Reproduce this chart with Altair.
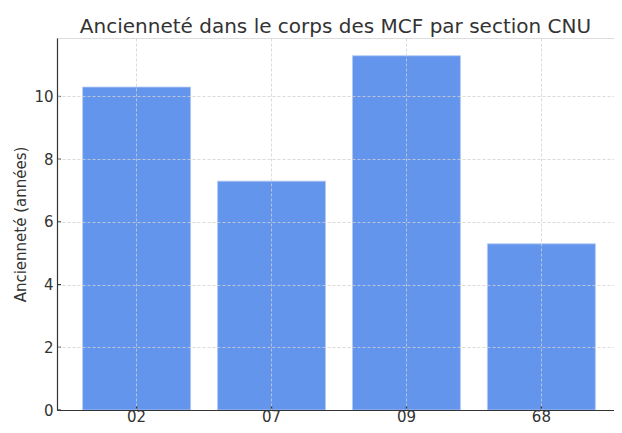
import altair as alt
import pandas as pd

sections = ["02", "07", "09", "68"]
anciennete = [10.3, 7.3, 11.3, 5.3]
y_ticks = [0, 2, 4, 6, 8, 10]

df = pd.DataFrame({"section": sections, "anciennete": anciennete})
df_ticks = pd.DataFrame({"t": y_ticks})

W, H = 557, 372
y_scale = alt.Scale(domain=[0, 11.865], nice=False, zero=True)
x_scale = alt.Scale(domain=sections, paddingInner=0.2, paddingOuter=0.19, range=[0, 564])

x_axis = alt.Axis(
    title=None, labelAngle=0, labelFontSize=15, labelColor="#333333",
    labelFont="DejaVu Sans", labelPadding=11, labelBaseline="alphabetic", ticks=False,
    domain=True, domainColor="#333333", domainWidth=1.2,
    grid=True, gridColor="#d0d0d0", gridDash=[3, 2], gridWidth=0.8,
    bandPosition=0.5, zindex=1,
)
y_axis = alt.Axis(
    title="Ancienneté (années)", titleFontSize=15, titleFont="DejaVu Sans",
    titleFontWeight="normal", titleColor="#333333", titlePadding=5,
    values=y_ticks, labelFontSize=15, labelColor="#333333",
    labelFont="DejaVu Sans", labelPadding=4, ticks=False,
    domain=True, domainColor="#333333", domainWidth=1.2,
    grid=True, gridColor="#d0d0d0", gridDash=[3, 2], gridWidth=0.8, zindex=1,
)

bars = alt.Chart(df).mark_bar(
    color="#6495ED", stroke="#b3c9f3", strokeWidth=0.8
).encode(
    x=alt.X("section:N", scale=x_scale, axis=x_axis, sort=sections),
    y=alt.Y("anciennete:Q", scale=y_scale, axis=y_axis),
)

xticks = alt.Chart(df).mark_rule(color="#333333", strokeWidth=1.2).encode(
    x=alt.X("section:N", scale=x_scale, sort=sections),
    y=alt.value(H),
    y2=alt.value(H - 4),
)

yticks = alt.Chart(df_ticks).mark_rule(color="#333333", strokeWidth=1.2).encode(
    y=alt.Y("t:Q", scale=y_scale),
    x=alt.value(0),
    x2=alt.value(4),
)

chart = alt.layer(bars, xticks, yticks).properties(
    width=W,
    height=H,
    title=alt.TitleParams(
        "Ancienneté dans le corps des MCF par section CNU",
        font="DejaVu Sans", fontSize=20, fontWeight="normal",
        color="#333333", anchor="middle", offset=1,
    ),
    autosize=alt.AutoSizeParams(type="none"),
    padding={"left": 49, "top": 30, "right": 0, "bottom": 15},
).configure_view(stroke=None).configure(background="white")

chart.save("out.html", embed_options={"renderer": "svg", "actions": False})
